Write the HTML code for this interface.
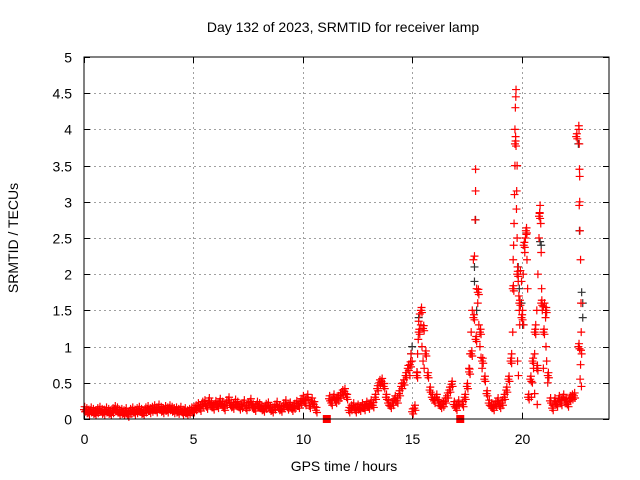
<!DOCTYPE html>
<html><head><meta charset="utf-8"><style>
html,body{margin:0;padding:0;background:#fff;}
svg{display:block;font-family:"Liberation Sans",Arial,sans-serif;}
</style></head><body>
<svg id="chart" width="640" height="480" viewBox="0 0 640 480">
<text x="343" y="32" text-anchor="middle" font-size="14" fill="#000">Day 132 of 2023, SRMTID for receiver lamp</text>
<text x="344" y="471" text-anchor="middle" font-size="14" fill="#000">GPS time / hours</text>
<text transform="translate(18,238) rotate(-90)" text-anchor="middle" font-size="14" fill="#000">SRMTID / TECUs</text>
<g id="grid"></g>
<g id="ticks"></g>
<g id="black"></g>
<g id="red"></g>
<rect x="84" y="57" width="525" height="362" fill="none" stroke="#000" stroke-width="1"/>
</svg>
<script>
const xTicks = [0,5,10,15,20];
const yTicks = [0,0.5,1,1.5,2,2.5,3,3.5,4,4.5,5];
const yTickLabels = ["0","0.5","1","1.5","2","2.5","3","3.5","4","4.5","5"];
const gridStartHour = 0;
const gridStepHour = 0.1;
const redGridValues = [
0.13,0.11,0.09,0.12,0.10,0.08,0.11,0.13,0.10,0.09,
0.12,0.10,0.08,0.11,0.14,0.12,0.09,0.10,0.08,0.11,
0.06,0.10,0.12,0.09,0.11,0.13,0.10,0.08,0.12,0.14,
0.11,0.13,0.15,0.12,0.16,0.13,0.11,0.14,0.12,0.15,
0.13,0.11,0.12,0.10,0.13,0.09,0.11,0.08,0.10,0.12,
0.12,0.15,0.18,0.14,0.20,0.22,0.17,0.25,0.19,0.16,
0.21,0.18,0.24,0.20,0.15,0.22,0.26,0.19,0.17,0.23,
0.20,0.16,0.18,0.22,0.15,0.19,0.24,0.17,0.14,0.20,
0.18,0.15,0.13,0.17,0.19,0.14,0.12,0.16,0.20,0.15,
0.13,0.18,0.22,0.16,0.19,0.14,0.17,0.21,0.18,0.24,
0.28,0.22,0.30,0.18,0.25,0.20,0.12,null,null,null,
null,null,0.28,0.22,0.30,0.25,0.28,0.32,0.36,0.38,
0.30,0.12,0.15,0.18,0.12,0.16,0.14,0.18,0.15,0.20,
0.17,0.22,0.19,0.30,0.42,0.50,0.52,0.45,0.30,0.22,
0.18,0.22,0.28,0.25,0.35,0.45,0.50,0.60,0.70,0.75,
0.10,0.15,0.60,1.20,1.50,1.25,0.90,0.60,0.40,0.30,
0.25,0.30,0.22,0.18,0.20,0.25,0.32,0.40,0.48,0.20,
0.15,0.22,null,0.20,0.30,0.45,0.65,0.90,1.40,1.10,
1.75,1.20,0.80,0.55,0.35,0.22,0.18,0.15,0.20,0.25,
0.18,0.22,0.30,0.40,0.55,0.80,1.80,3.80,2.00,1.60,
1.40,2.40,2.60,0.30,0.55,0.80,1.20,0.70,2.80,1.60,
1.20,1.50,0.60,0.25,0.15,0.25,0.20,0.28,0.22,0.30,
0.25,0.20,0.28,0.30,0.32,3.90,1.00,null,null,null];
const redSpikeHours = [15.25,15.3,15.35,15.28,15.4,15.45,15.5,15.55,15.22,14.95,15.0,14.9,
17.75,17.8,17.85,17.9,17.9,17.88,17.95,18.0,17.7,18.05,18.1,18.15,18.2,17.65,17.6,
19.7,19.72,19.75,19.74,19.73,19.7,19.68,19.66,19.64,19.62,19.78,19.8,19.77,19.8,19.82,19.85,19.88,19.9,19.92,19.82,19.86,19.95,20.0,20.05,20.1,20.15,20.18,20.22,20.25,20.28,20.08,19.6,19.55,
20.5,20.55,20.6,20.65,20.7,20.75,20.8,20.83,20.85,20.88,20.9,20.92,20.95,21.0,21.05,21.1,21.12,21.15,21.2,20.45,20.6,21.0,20.72,
22.62,22.63,22.64,22.65,22.66,22.66,22.64,22.67,22.7,22.72,22.73,22.72,22.75,22.7,22.68,22.74];
const redSpikeValues = [0.9,1.35,1.45,1.1,1.3,1.0,0.8,0.7,0.65,0.9,0.8,0.6,
1.5,2.2,2.25,3.45,3.15,2.75,1.8,1.6,1.2,1.3,1.0,0.85,0.7,0.9,0.7,
4.0,4.3,4.55,4.45,3.9,3.5,3.1,2.7,2.4,2.2,3.15,3.5,2.9,2.5,2.1,1.9,1.7,1.5,1.3,0.8,0.6,2.05,1.9,1.5,1.3,2.3,2.5,2.55,2.2,1.8,2.0,1.2,0.9,
0.5,0.7,0.9,1.3,1.5,2.0,2.5,2.85,2.95,2.7,2.3,1.8,1.5,1.55,1.6,1.4,1.0,0.8,0.5,0.3,0.35,0.7,0.2,
4.05,4.0,3.8,3.45,3.35,3.0,2.95,2.6,2.2,1.6,1.2,0.95,0.9,0.75,0.55,0.45];
const zeroHours = [11.1,17.2];
const zeroValues = [0,0];
const blackHours = [14.95,15.0,15.3,17.85,17.9,17.85,19.85,19.9,20.0,20.85,20.9,22.6,22.65,22.75,22.8,22.8,17.95,20.05];
const blackValues = [0.9,1.0,1.4,2.1,2.75,1.9,2.1,1.8,1.6,2.45,2.4,3.8,2.6,1.75,1.6,1.4,1.5,1.3];

const X0=84, X1=609, Y0=419, Y1=57, XMAX=24, YMAX=5;
const NS='http://www.w3.org/2000/svg';
function xs(h){return X0+(h/XMAX)*(X1-X0);}
function ys(v){return Y0-(v/YMAX)*(Y0-Y1);}
const grid=document.getElementById('grid'), ticks=document.getElementById('ticks');
function line(g,x1,y1,x2,y2,stroke,dash){const l=document.createElementNS(NS,'line');
l.setAttribute('x1',x1);l.setAttribute('y1',y1);l.setAttribute('x2',x2);l.setAttribute('y2',y2);
l.setAttribute('stroke',stroke);l.setAttribute('stroke-width','1');if(dash)l.setAttribute('stroke-dasharray',dash);g.appendChild(l);return l;}
function text(g,x,y,s,anchor){const t=document.createElementNS(NS,'text');t.setAttribute('x',x);t.setAttribute('y',y);
t.setAttribute('text-anchor',anchor);t.setAttribute('font-size','14');t.textContent=s;g.appendChild(t);return t;}
xTicks.forEach(h=>{const x=Math.round(xs(h))+0.5;
 if(h>0){const gl=line(grid,x,Y0,x,Y1,'#a0a0a0','2,3');
 
 }
 line(ticks,x,Y0,x,Y0-6,'#000');line(ticks,x,Y1,x,Y1+6,'#000');
 const t=text(ticks,x,444,String(h),'middle');
 
 });
yTicks.forEach((v,i)=>{const y=Math.round(ys(v))+0.5;
 if(v>0&&v<YMAX){const gl=line(grid,X0,y,X1,y,'#a0a0a0','2,3');
 
 }
 line(ticks,X0,y,X0+6,y,'#000');line(ticks,X1,y,X1-6,y,'#000');
 const t=text(ticks,72,y+5,yTickLabels[i],'end');
 
 });
function plus(g,h,v,color){const x=xs(h),y=ys(v);const p=document.createElementNS(NS,'path');
 p.setAttribute('d',`M${x-4} ${y}h8M${x} ${y-4}v8`);p.setAttribute('stroke',color);p.setAttribute('stroke-width','1.2');
 p.setAttribute('fill','none');g.appendChild(p);return p;}
const black=document.getElementById('black'), red=document.getElementById('red');
blackHours.forEach((h,i)=>{const p=plus(black,h,blackValues[i],'#333');
 
 });
redGridValues.forEach((v,i)=>{if(v===null)return;const h=gridStartHour+i*gridStepHour;
 const p=plus(red,h,v,'#f00');
 
 
 const p2=plus(red,h+0.05,Math.max(0.02,v-0.03),'#f00');
 
 
 const p3=plus(red,h+0.03,v+0.04,'#f00');
 
 });
redSpikeHours.forEach((h,i)=>{const p=plus(red,h,redSpikeValues[i],'#f00');
 
 });
zeroHours.forEach((h,i)=>{const r=document.createElementNS(NS,'rect');
 r.setAttribute('x',xs(h)-4);r.setAttribute('y',ys(zeroValues[i])-4);r.setAttribute('width',8);r.setAttribute('height',8);r.setAttribute('fill','#f00');
 
 
 red.appendChild(r);});
</script>
</body></html>
